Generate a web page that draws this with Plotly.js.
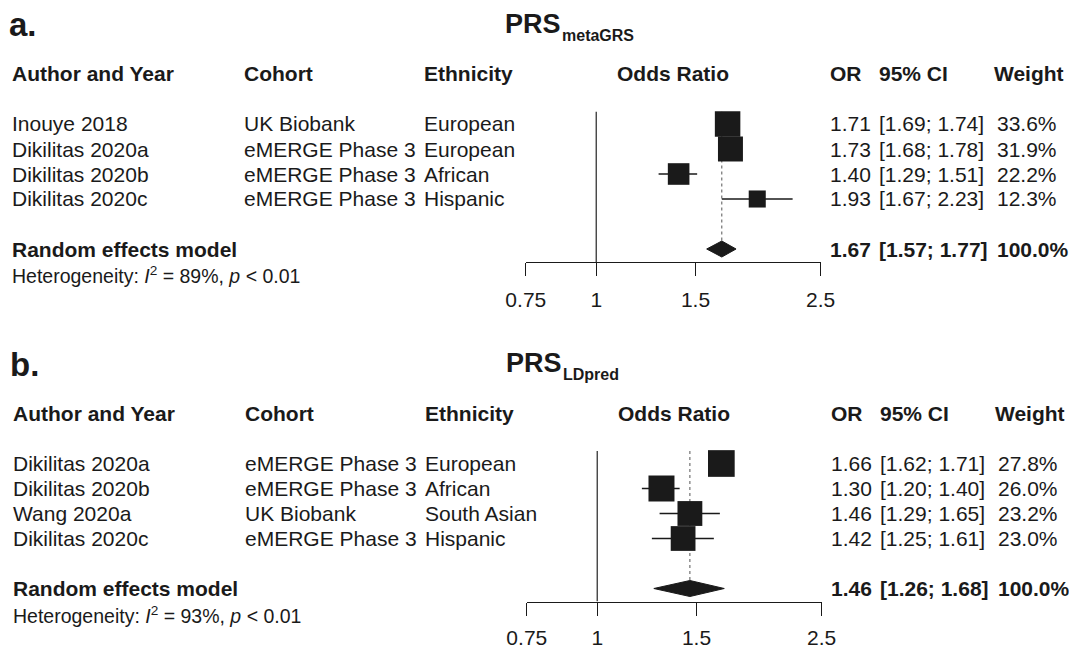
<!DOCTYPE html>
<html><head><meta charset="utf-8">
<script src="https://cdn.plot.ly/plotly-3.0.1.min.js"></script>
<style>html,body{margin:0;padding:0;background:#fff}#chart{width:1069px;height:648px}</style>
</head><body><div id="chart"></div>
<script>
// ---------- Panel a: PRS metaGRS ----------
const studiesA = ["Inouye 2018", "Dikilitas 2020a", "Dikilitas 2020b", "Dikilitas 2020c"];
const cohortsA = ["UK Biobank", "eMERGE Phase 3", "eMERGE Phase 3", "eMERGE Phase 3"];
const ethnicA  = ["European", "European", "African", "Hispanic"];
const orA      = [1.71, 1.73, 1.40, 1.93];
const loA      = [1.69, 1.68, 1.29, 1.67];
const hiA      = [1.74, 1.78, 1.51, 2.23];
const weightA  = [33.6, 31.9, 22.2, 12.3];
const pooledA  = [1.67, 1.57, 1.77];   // OR, lower, upper
const i2A = 89;

// ---------- Panel b: PRS LDpred ----------
const studiesB = ["Dikilitas 2020a", "Dikilitas 2020b", "Wang 2020a", "Dikilitas 2020c"];
const cohortsB = ["eMERGE Phase 3", "eMERGE Phase 3", "UK Biobank", "eMERGE Phase 3"];
const ethnicB  = ["European", "African", "South Asian", "Hispanic"];
const orB      = [1.66, 1.30, 1.46, 1.42];
const loB      = [1.62, 1.20, 1.29, 1.25];
const hiB      = [1.71, 1.40, 1.65, 1.61];
const weightB  = [27.8, 26.0, 23.2, 23.0];
const pooledB  = [1.46, 1.26, 1.68];
const i2B = 93;

const tickVals = [0.75, 1, 1.5, 2.5];
const tickText = ["0.75", "1", "1.5", "2.5"];
const headers = ["Author and Year", "Cohort", "Ethnicity", "Odds Ratio", "OR", "95% CI", "Weight"];

// ---------- rendering ----------
const W = 1069, H = 648;
const FONT = "Liberation Sans, Arial, Helvetica, sans-serif";
const INK = "#1a1a1a";
const FS = 21;

const traces = [];
const annotations = [];
const layout = {
  width: W, height: H,
  margin: {l: 0, r: 0, t: 0, b: 0},
  paper_bgcolor: "#fff", plot_bgcolor: "rgba(0,0,0,0)",
  showlegend: false,
  font: {family: FONT, color: INK, size: FS},
  annotations: annotations
};

function ann(text, xpx, ypx, size, bold, anchor) {
  annotations.push({
    text: bold ? "<b>" + text + "</b>" : text,
    x: xpx / W, xref: "paper", xanchor: anchor || "left",
    y: 1 - ypx / H, yref: "paper", yanchor: "middle",
    showarrow: false, borderpad: 0, borderwidth: 0,
    font: {family: FONT, size: size, color: INK}
  });
}

function panel(k, d, g) {
  const xa = k === 1 ? "x" : "x" + k, ya = k === 1 ? "y" : "y" + k;
  const xkey = k === 1 ? "xaxis" : "xaxis" + k, ykey = k === 1 ? "yaxis" : "yaxis" + k;
  const n = d.or.length;
  const rows = d.or.map((_, i) => i + 1);
  const poolRow = n + 2;
  const yBottom = n + 2.52;
  const dx = g.dx;
  // pixel position of a row (same linear mapping as the y axis)
  const rowPx = r => g.yTopPx + (r - 0.5) * (g.yAxisPx - g.yTopPx) / (yBottom - 0.5);

  // reference line at OR = 1
  traces.push({x: [1, 1], y: [0.5, yBottom], xaxis: xa, yaxis: ya, mode: "lines",
    line: {color: "#333", width: 1.3}, hoverinfo: "skip", cliponaxis: false});
  // dotted pooled-effect line
  traces.push({x: [d.pooled[0], d.pooled[0]], y: [0.5, poolRow - 0.32], xaxis: xa, yaxis: ya,
    mode: "lines", line: {color: "#555", width: 1, dash: "dot"}, hoverinfo: "skip"});
  // confidence intervals
  const cx = [], cy = [];
  d.or.forEach((_, i) => { cx.push(d.lo[i], d.hi[i], null); cy.push(rows[i], rows[i], null); });
  traces.push({x: cx, y: cy, xaxis: xa, yaxis: ya, mode: "lines",
    line: {color: INK, width: 1.3}, hoverinfo: "skip"});
  // weighted squares
  const wmax = Math.max.apply(null, d.w);
  traces.push({x: d.or, y: rows, xaxis: xa, yaxis: ya, mode: "markers",
    marker: {symbol: "square", color: INK, opacity: 1,
      size: d.w.map(w => g.box * Math.pow(w / wmax, 0.4)), line: {width: 0}},
    hoverinfo: "skip", cliponaxis: false});
  // pooled diamond
  traces.push({x: [d.pooled[1], d.pooled[0], d.pooled[2], d.pooled[0], d.pooled[1]],
    y: [poolRow, poolRow - 0.32, poolRow, poolRow + 0.32, poolRow], xaxis: xa, yaxis: ya,
    mode: "lines", fill: "toself", fillcolor: INK, line: {color: INK, width: 1}, hoverinfo: "skip"});

  layout[xkey] = {
    type: "log", range: [Math.log10(0.75), Math.log10(2.5)],
    domain: [(g.x0 + dx) / W, (g.x1 + dx) / W], anchor: ya,
    showline: true, linecolor: INK, linewidth: 1,
    ticks: "outside", ticklen: 13, tickwidth: 1, tickcolor: INK,
    tickmode: "array", tickvals: tickVals, ticktext: tickText,
    tickfont: {family: FONT, size: FS, color: INK}, ticklabelstandoff: g.standoff,
    showgrid: false, zeroline: false, fixedrange: true
  };
  layout[ykey] = {
    range: [yBottom, 0.5], domain: [1 - g.yAxisPx / H, 1 - g.yTopPx / H], anchor: xa,
    visible: false, fixedrange: true
  };

  // panel letter and title
  ann(g.letter, 9 + dx, g.letterY, 33, true);
  ann("PRS", 505 + dx, g.titleY, 27, true);
  ann(g.sub, 562 + dx, g.titleY + 11, 16, true);

  // column headers
  const hx = [12, 244, 424, 673, 830, 879, 994];
  headers.forEach((h, j) => ann(h, hx[j] + dx, rowPx(-1), FS, true, j === 3 ? "center" : "left"));

  // study rows
  d.or.forEach((v, i) => {
    const y = rowPx(rows[i]);
    ann(d.study[i], 12 + dx, y, FS, false);
    ann(d.cohort[i], 244 + dx, y, FS, false);
    ann(d.eth[i], 424 + dx, y, FS, false);
    ann(v.toFixed(2), 830 + dx, y, FS, false);
    ann("[" + d.lo[i].toFixed(2) + "; " + d.hi[i].toFixed(2) + "]", 879 + dx, y, FS, false);
    ann(d.w[i].toFixed(1) + "%", 997 + dx, y, FS, false);
  });

  // pooled row
  const wsum = d.w.reduce((a, b) => a + b, 0);
  const yp = rowPx(poolRow);
  ann("Random effects model", 12 + dx, yp, FS, true);
  ann(d.pooled[0].toFixed(2), 830 + dx, yp, FS, true);
  ann("[" + d.pooled[1].toFixed(2) + "; " + d.pooled[2].toFixed(2) + "]", 879 + dx, yp, FS, true);
  ann(wsum.toFixed(1) + "%", 997 + dx, yp, FS, true);
  ann("Heterogeneity: <i>I</i><sup>2</sup> = " + d.i2 + "%, <i>p</i> &lt; 0.01", 12 + dx, rowPx(poolRow + 1.05), 19.5, false);
}

panel(1, {study: studiesA, cohort: cohortsA, eth: ethnicA, or: orA, lo: loA, hi: hiA, w: weightA, pooled: pooledA, i2: i2A},
  {x0: 525.8, x1: 820.6, dx: 0, yTopPx: 111.5, yAxisPx: 262, box: 25.5, letter: "a.", sub: "metaGRS", letterY: 25, titleY: 24, standoff: 6});
panel(2, {study: studiesB, cohort: cohortsB, eth: ethnicB, or: orB, lo: loB, hi: hiB, w: weightB, pooled: pooledB, i2: i2B},
  {x0: 525.8, x1: 820.6, dx: 1, yTopPx: 451, yAxisPx: 601.5, box: 26.7, letter: "b.", sub: "LDpred", letterY: 365, titleY: 363, standoff: 4});

Plotly.newPlot("chart", traces, layout, {staticPlot: true, displayModeBar: false});
</script>
</body></html>
